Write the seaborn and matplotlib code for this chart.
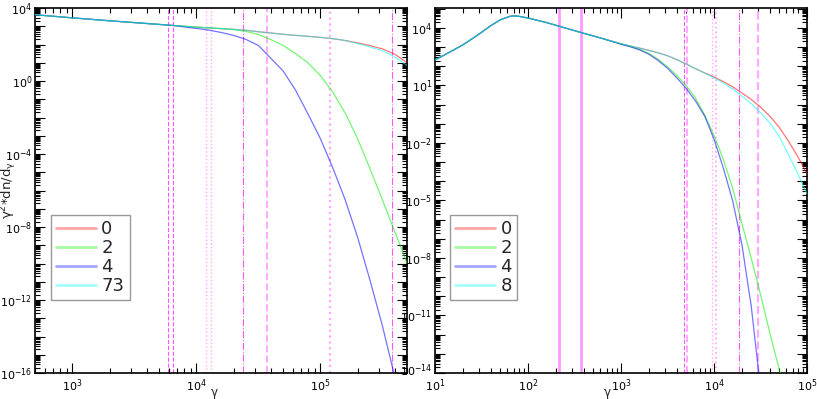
#!/usr/bin/env python3
"""Two-panel log-log spectra gamma^2 dn/dgamma with magenta marker lines."""

import matplotlib
matplotlib.use("Agg")
import matplotlib.pyplot as plt
import numpy as np
import pandas as pd
import seaborn as sns
from matplotlib.ticker import FixedLocator, FuncFormatter, LogLocator, NullFormatter
from matplotlib.transforms import ScaledTranslation

# ---- left panel (log10 gamma, log10 gamma^2 dn/dgamma) ----
LEFT_LOGG = [2.7, 3.0, 3.3, 3.6, 3.8, 4.0, 4.1, 4.2, 4.3, 4.4, 4.5, 4.6, 4.7,
             4.8, 4.9, 5.0, 5.1, 5.2, 5.3, 5.4, 5.5, 5.6, 5.7]
LEFT_0 = [3.63, 3.46, 3.30, 3.15, 3.05, 2.95, 2.91, 2.87, 2.83, 2.78, 2.70, 2.63,
          2.56, 2.50, 2.45, 2.39, 2.32, 2.22, 2.09, 1.94, 1.76, 1.47, 1.00]
LEFT_2 = [3.63, 3.46, 3.30, 3.15, 3.05, 2.95, 2.91, 2.87, 2.82, 2.72, 2.55, 2.27,
          1.95, 1.50, 1.00, 0.30, -0.60, -1.75, -3.15, -4.80, -6.50, -8.25, -10.0]
LEFT_4 = [3.63, 3.46, 3.30, 3.15, 3.05, 2.88, 2.79, 2.66, 2.50, 2.28, 1.95, 1.25,
          0.55, -0.50, -1.80, -3.15, -4.75, -6.50, -8.55, -10.9, -13.4, -16.2, -19.0]
LEFT_73 = [3.63, 3.46, 3.30, 3.15, 3.05, 2.95, 2.91, 2.87, 2.83, 2.78, 2.70, 2.63,
           2.56, 2.50, 2.45, 2.39, 2.32, 2.22, 2.05, 1.87, 1.66, 1.32, 0.85]
LEFT_LABELS = ["0", "2", "4", "73"]

# ---- right panel ----
RIGHT_LOGG = [1.0, 1.15, 1.3, 1.45, 1.6, 1.7, 1.8, 1.85, 1.9, 2.0, 2.2, 2.4, 2.6,
              2.8, 3.0, 3.1, 3.2, 3.3, 3.4, 3.5, 3.6, 3.7, 3.8, 3.9, 4.0, 4.1,
              4.2, 4.3, 4.4, 4.5, 4.6, 4.7, 4.8, 4.9, 5.0]
RIGHT_0 = [2.33, 2.72, 3.12, 3.60, 4.12, 4.42, 4.60, 4.63, 4.61, 4.52, 4.28, 4.00,
           3.72, 3.45, 3.18, 3.06, 2.95, 2.83, 2.70, 2.55, 2.35, 2.12, 1.88, 1.65,
           1.45, 1.20, 0.93, 0.61, 0.27, -0.13, -0.60, -1.17, -1.90, -2.70, -3.60]
RIGHT_2 = [2.33, 2.72, 3.12, 3.60, 4.12, 4.42, 4.60, 4.63, 4.61, 4.52, 4.28, 4.00,
           3.72, 3.45, 3.16, 3.03, 2.88, 2.67, 2.36, 1.98, 1.52, 1.00, 0.35, -0.55,
           -1.60, -2.85, -4.35, -6.20, -8.00, -9.90, -11.9, -13.8, -15.7, -17.6, -19.5]
RIGHT_4 = [2.33, 2.72, 3.12, 3.60, 4.12, 4.42, 4.60, 4.63, 4.61, 4.52, 4.28, 4.00,
           3.72, 3.45, 3.15, 3.02, 2.86, 2.63, 2.30, 1.90, 1.40, 0.85, 0.20, -0.60,
           -1.80, -3.30, -5.00, -7.30, -10.5, -14.8, -19.5, -24.0, -28.0, -32.0, -36.0]
RIGHT_8 = [2.33, 2.72, 3.12, 3.60, 4.12, 4.42, 4.60, 4.63, 4.61, 4.52, 4.28, 4.00,
           3.72, 3.45, 3.18, 3.06, 2.95, 2.83, 2.70, 2.55, 2.35, 2.12, 1.88, 1.64,
           1.40, 1.12, 0.82, 0.45, 0.05, -0.42, -0.95, -1.65, -2.60, -3.60, -4.65]
RIGHT_LABELS = ["0", "2", "4", "8"]

# vertical marker lines: gamma, style, width, colour
LEFT_VLINES = [(5900, "--", 0.8, "#ff55ff"), (6470, "--", 0.8, "#ff55ff"),
               (11900, ":", 1.0, "#ffaaff"), (13200, ":", 1.0, "#ffaaff"),
               (23900, "-.", 0.8, "#ff55ff"), (37400, "--", 1.4, "#ffaaff"),
               (119000, ":", 1.6, "#ffaaff"), (378000, "-.", 0.8, "#ff55ff")]
RIGHT_VLINES = [(215, "-", 2.0, "#ff99ff"), (372, "-", 2.0, "#ff99ff"),
                (4710, "--", 0.8, "#ff55ff"), (5130, "--", 1.4, "#ffaaff"),
                (9460, ":", 1.0, "#ffaaff"), (10400, ":", 1.3, "#ffaaff"),
                (18750, "-.", 0.8, "#ff55ff"), (30000, "--", 1.6, "#ffaaff")]

COLORS = ["#ff0000", "#00ee00", "#0000ff", "#00ffff"]


def make_frame(logg, series, labels):
    rows = []
    for vals, lab in zip(series, labels):
        for lx, ly in zip(logg, vals):
            rows.append({"gamma": 10.0 ** lx, "value": 10.0 ** ly, "run": lab})
    return pd.DataFrame(rows)


def exp_label(step, ref):
    def fmt(v, pos):
        e = int(round(np.log10(v)))
        if (e - ref) % step != 0:
            return ""
        return r"$10^{%d}$" % e
    return fmt


def style_axis(ax, xlim, ylim, ystep, yref, xlab_x):
    ax.set_xscale("log")
    ax.set_yscale("log")
    ax.set_xlim(*xlim)
    ax.set_ylim(*ylim)
    lo, hi = int(np.floor(np.log10(ylim[0]))), int(np.ceil(np.log10(ylim[1])))
    ax.yaxis.set_major_locator(FixedLocator([10.0 ** e for e in range(lo, hi + 1)]))
    ax.yaxis.set_major_formatter(FuncFormatter(exp_label(ystep, yref)))
    ax.yaxis.set_minor_locator(LogLocator(base=10, subs=np.arange(2, 10), numticks=100))
    ax.yaxis.set_minor_formatter(NullFormatter())
    ax.xaxis.set_major_locator(LogLocator(base=10, numticks=20))
    ax.xaxis.set_major_formatter(FuncFormatter(exp_label(1, 0)))
    ax.xaxis.set_minor_locator(LogLocator(base=10, subs=np.arange(2, 10), numticks=100))
    ax.xaxis.set_minor_formatter(NullFormatter())
    ax.tick_params(which="both", direction="in", top=True, right=True,
                   labelsize=8, pad=2, width=0.8, colors="black")
    ax.tick_params(axis="x", pad=3.5)
    ax.tick_params(which="major", length=7)
    ax.tick_params(which="minor", length=3.5)
    for sp in ax.spines.values():
        sp.set_linewidth(1.2)
        sp.set_color("black")
    ax.set_xlabel(r"$\gamma$", fontsize=8.5)
    ax.xaxis.set_label_coords(xlab_x, -0.037)


def draw_panel(ax, df, labels, vlines, anchor):
    for g, ls, lw, col in vlines:
        ax.axvline(g, linestyle=ls, linewidth=lw, color=col, zorder=1)
    sns.lineplot(data=df, x="gamma", y="value", hue="run", hue_order=labels,
                 palette=COLORS, linewidth=0.9, alpha=0.55, sort=True,
                 estimator=None, ax=ax, zorder=3)
    handles, labs = ax.get_legend_handles_labels()
    for h in handles:
        h.set_linewidth(2.0)
        h.set_alpha(0.35)
    ax.legend(handles, labs, loc="upper left", bbox_to_anchor=anchor,
              borderaxespad=0, fontsize=13, frameon=True, fancybox=False,
              edgecolor="#999999", framealpha=1, handlelength=2.2,
              handletextpad=0.3, labelspacing=0.05, borderpad=0.3)


def main():
    sns.set_theme(style="ticks")
    plt.rcParams["font.family"] = ["DejaVu Sans"]
    plt.rcParams["mathtext.default"] = "regular"

    fig = plt.figure(figsize=(8.17, 3.99), dpi=100)
    ax_l = fig.add_axes([35 / 817, 26 / 399, 372 / 817, 365 / 399])
    ax_r = fig.add_axes([435 / 817, 26 / 399, 372 / 817, 365 / 399])

    df_l = make_frame(LEFT_LOGG, [LEFT_0, LEFT_2, LEFT_4, LEFT_73], LEFT_LABELS)
    df_r = make_frame(RIGHT_LOGG, [RIGHT_0, RIGHT_2, RIGHT_4, RIGHT_8], RIGHT_LABELS)

    draw_panel(ax_l, df_l, LEFT_LABELS, LEFT_VLINES, (0.042, 0.433))
    draw_panel(ax_r, df_r, RIGHT_LABELS, RIGHT_VLINES, (0.040, 0.433))

    style_axis(ax_l, (500, 5e5), (1e-16, 1e4), 4, 0, 0.483)
    style_axis(ax_r, (10, 1e5), (1e-14, 1.1e5), 3, 1, 0.462)
    ax_l.set_ylabel(r"$\gamma^{2}$*dn/d$_{\gamma}$", fontsize=9.5)
    ax_l.yaxis.set_label_coords(-0.042, 0.50)
    ax_r.set_ylabel("")

    # lift the bottom y label of the right panel a touch so it clears 10^1
    fig.canvas.draw()
    nudge = ScaledTranslation(0, 3 / 72, fig.dpi_scale_trans)
    for lab in ax_r.get_yticklabels():
        if "-14" in lab.get_text():
            lab.set_transform(lab.get_transform() + nudge)

    fig.savefig("out.png", dpi=100)
    plt.close(fig)


if __name__ == "__main__":
    main()
